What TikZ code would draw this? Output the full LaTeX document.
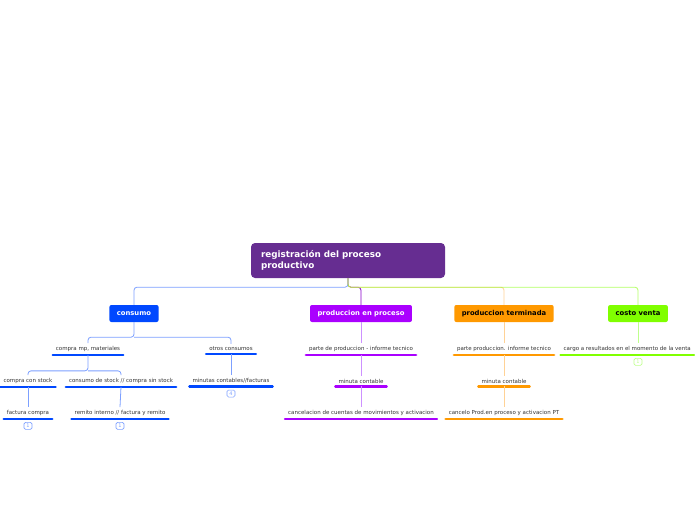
\documentclass[tikz,border=0pt]{standalone}
\usepackage{fontspec}
\setmainfont{DejaVu Sans}
\usepackage{tikz}
\usetikzlibrary{positioning,calc}
\usepackage{xcolor}
\definecolor{mmroot}{RGB}{102,45,145}
\definecolor{mmblue}{RGB}{0,72,255}
\definecolor{mmbluelight}{RGB}{125,160,255}
\definecolor{mmpurple}{RGB}{170,0,255}
\definecolor{mmpurpledark}{RGB}{135,0,200}
\definecolor{mmpurplelight}{RGB}{205,145,255}
\definecolor{mmorange}{RGB}{255,153,0}
\definecolor{mmorangelight}{RGB}{255,210,150}
\definecolor{mmgreen}{RGB}{128,255,0}
\definecolor{mmgreenlight}{RGB}{190,255,140}
\definecolor{mmtext}{RGB}{50,50,50}
\tikzstyle{rootbox} = [rectangle, rounded corners=4pt, fill=mmroot, text=white, font=\fontsize{8.8}{11}\selectfont\bfseries, minimum width=194pt, minimum height=35pt, text width=174pt, align=left, inner xsep=10pt]
\tikzstyle{topic} = [rectangle, rounded corners=2pt, minimum height=17pt, inner xsep=7.5pt, font=\fontsize{6.8}{7}\selectfont\bfseries]
\tikzstyle{leaf} = [font=\fontsize{5.5}{6}\selectfont, text=mmtext, inner xsep=3pt, inner ysep=3pt]
\tikzstyle{uline} = [line width=2.4pt, line cap=round]
\tikzstyle{link} = [line width=0.8pt, rounded corners=3pt]
\tikzstyle{badge} = [rectangle, rounded corners=1.5pt, minimum width=8pt, minimum height=7pt, inner sep=0pt, line width=0.6pt, font=\fontsize{5}{5}\selectfont]

\begin{document}
\begin{tikzpicture}[x=1pt, y=-1pt]
\useasboundingbox (0,0) rectangle (696,520);

% central topic
\node[rootbox] (root) at (348,260.5) {registración del proceso\\productivo};
\coordinate (hub) at ($(root.south)+(0,9)$);

% main topics
\node[topic, fill=mmblue, text=white] (consumo) at (134,313.5) {consumo};
\node[topic, fill=mmpurple, text=white] (proceso) at (361,313.5) {produccion en proceso};
\node[topic, fill=mmorange, text=black] (terminada) at (504,313.5) {produccion terminada};
\node[topic, fill=mmgreen, text=black] (venta) at (638,313.5) {costo venta};

\draw[link, mmpurpledark] (root.south) -- (hub) -| (proceso.north);
\draw[link, mmbluelight] (root.south) -- (hub) -| (consumo.north);
\draw[link, mmorangelight] (root.south) -- (hub) -| (terminada.north);
\draw[link, mmgreen, opacity=0.6] (root.south) -- (hub) -| (venta.north);

% consumo
\node[leaf] (mp) at (88,349) {compra mp, materiales};
\node[leaf] (otros) at (231,349) {otros consumos};
\node[leaf] (constock) at (28,381) {compra con stock};
\node[leaf] (sinstock) at (121,381) {consumo de stock // compra sin stock};
\node[leaf] (minutas) at (231,381) {minutas contables//facturas};
\node[leaf] (factura) at (28,413) {factura compra};
\node[leaf] (remito) at (120,413) {remito interno // factura y remito};
\foreach \n in {mp,otros,constock,sinstock,minutas,factura,remito}
  \draw[uline, mmblue] (\n.south west) -- (\n.south east);

\coordinate (cs) at ($(consumo.south)+(0,15)$);
\draw[link, mmbluelight] (consumo.south) -- (cs) -| (mp.north);
\draw[link, mmbluelight] (cs) -| (otros.north);
\coordinate (ms) at ($(mp.south)+(0,16)$);
\draw[link, mmbluelight] (mp.south) -- (ms) -| (constock.north);
\draw[link, mmbluelight] (ms) -| (sinstock.north);
\draw[link, mmbluelight] (otros.south) -- (minutas.north);
\draw[link, mmbluelight] (constock.south) -- (factura.north);
\draw[link, mmbluelight] (sinstock.south) -- (remito.north);

\node[badge, draw=mmbluelight, text=mmbluelight] (b1) at ($(factura.south)+(0,7)$) {1};
\node[badge, draw=mmbluelight, text=mmbluelight] (b2) at ($(remito.south)+(0,7)$) {1};
\node[badge, draw=mmbluelight, text=mmbluelight] (b3) at ($(minutas.south)+(0,7)$) {4};

% produccion en proceso
\node[leaf] (parte) at (361,349) {parte de produccion - informe tecnico};
\node[leaf] (minuta) at (361,381) {minuta contable};
\node[leaf] (cancel) at (361,413) {cancelacion de cuentas de movimientos y activacion};
\foreach \n in {parte,minuta,cancel}
  \draw[uline, mmpurple] (\n.south west) -- (\n.south east);
\draw[link, mmpurplelight] (proceso.south) -- (parte.north);
\draw[link, mmpurplelight] (parte.south) -- (minuta.north);
\draw[link, mmpurplelight] (minuta.south) -- (cancel.north);

% produccion terminada
\node[leaf] (partet) at (504,349) {parte produccion. informe tecnico};
\node[leaf] (minutat) at (504,381) {minuta contable};
\node[leaf] (cancelo) at (504,413) {cancelo Prod.en proceso y activacion PT};
\foreach \n in {partet,minutat,cancelo}
  \draw[uline, mmorange] (\n.south west) -- (\n.south east);
\draw[link, mmorangelight] (terminada.south) -- (partet.north);
\draw[link, mmorangelight] (partet.south) -- (minutat.north);
\draw[link, mmorangelight] (minutat.south) -- (cancelo.north);

% costo venta
\node[leaf, anchor=east] (cargo) at (694,349) {cargo a resultados en el momento de la venta};
\draw[uline, mmgreen] (cargo.south west) -- (cargo.south east);
\draw[link, mmgreenlight] (venta.south) -- (venta.south |- cargo.north);
\node[badge, draw=mmgreenlight, text=mmgreenlight] (b4) at ($(venta.south |- cargo.south)+(0,7)$) {1};
\end{tikzpicture}
\end{document}
